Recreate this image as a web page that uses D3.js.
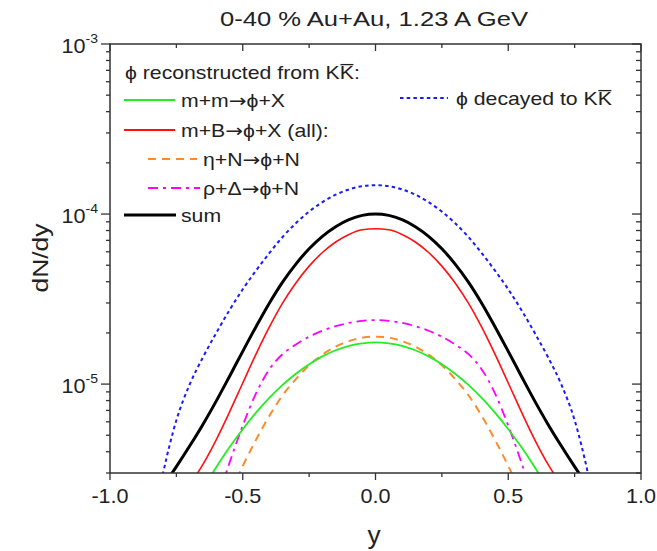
<!DOCTYPE html>
<html>
<head>
<meta charset="utf-8">
<script src="https://cdn.jsdelivr.net/npm/d3@7"></script>
<style>
  html, body { margin: 0; padding: 0; background: #fff; }
  svg { display: block; font-family: "Liberation Sans", Arial, Helvetica, sans-serif; }
</style>
</head>
<body>
<svg id="chart" width="657" height="551"></svg>
<script>
// Rapidity grid shared by all curves
const rapidity = [-0.85,-0.8,-0.75,-0.7,-0.65,-0.6,-0.55,-0.5,-0.45,-0.4,-0.35,-0.3,-0.25,-0.2,-0.15,-0.1,-0.05,0,
                  0.05,0.1,0.15,0.2,0.25,0.3,0.35,0.4,0.45,0.5,0.55,0.6,0.65,0.7,0.75,0.8,0.85];

// dN/dy for each channel (null = far below the axis range)
const decayedKK = [1.20e-6,3.00e-6,6.13e-6,9.94e-6,1.437e-5,1.995e-5,2.72e-5,3.61e-5,4.65e-5,5.89e-5,7.33e-5,8.83e-5,1.033e-4,1.175e-4,1.300e-4,1.396e-4,1.459e-4,1.479e-4,
                   1.459e-4,1.396e-4,1.300e-4,1.175e-4,1.033e-4,8.83e-5,7.33e-5,5.89e-5,4.65e-5,3.61e-5,2.72e-5,1.995e-5,1.437e-5,9.94e-6,6.13e-6,3.00e-6,1.20e-6];
const sumKK     = [1.95e-6,2.51e-6,3.27e-6,4.32e-6,5.79e-6,7.94e-6,1.109e-5,1.558e-5,2.175e-5,2.99e-5,3.98e-5,5.08e-5,6.25e-5,7.40e-5,8.43e-5,9.27e-5,9.82e-5,1.0e-4,
                   9.82e-5,9.27e-5,8.43e-5,7.40e-5,6.25e-5,5.08e-5,3.98e-5,2.99e-5,2.175e-5,1.558e-5,1.109e-5,7.94e-6,5.79e-6,4.32e-6,3.27e-6,2.51e-6,1.95e-6];
const mesonBaryon = [null,1.64e-6,2.02e-6,2.56e-6,3.37e-6,4.70e-6,6.84e-6,1.015e-5,1.50e-5,2.16e-5,2.99e-5,3.93e-5,4.94e-5,5.94e-5,6.85e-5,7.59e-5,8.08e-5,8.20e-5,
                     8.08e-5,7.59e-5,6.85e-5,5.94e-5,4.94e-5,3.93e-5,2.99e-5,2.16e-5,1.50e-5,1.015e-5,6.84e-6,4.70e-6,3.37e-6,2.56e-6,2.02e-6,1.64e-6,null];
const mesonMeson = [null,8.7e-7,1.25e-6,1.76e-6,2.42e-6,3.24e-6,4.25e-6,5.43e-6,6.79e-6,8.29e-6,9.89e-6,1.151e-5,1.31e-5,1.456e-5,1.581e-5,1.679e-5,1.738e-5,1.76e-5,
                    1.738e-5,1.679e-5,1.581e-5,1.456e-5,1.31e-5,1.151e-5,9.89e-6,8.29e-6,6.79e-6,5.43e-6,4.25e-6,3.24e-6,2.42e-6,1.76e-6,1.25e-6,8.7e-7,null];
const etaN = [null,null,null,null,8e-7,1.45e-6,2.23e-6,3.3e-6,4.7e-6,6.5e-6,8.6e-6,1.07e-5,1.29e-5,1.49e-5,1.66e-5,1.79e-5,1.875e-5,1.90e-5,
              1.875e-5,1.79e-5,1.66e-5,1.49e-5,1.29e-5,1.07e-5,8.6e-6,6.5e-6,4.7e-6,3.3e-6,2.23e-6,1.45e-6,8e-7,null,null,null,null];
const rhoDelta = [null,null,null,null,1.0e-6,1.98e-6,3.44e-6,5.70e-6,8.83e-6,1.22e-5,1.50e-5,1.71e-5,1.90e-5,2.06e-5,2.19e-5,2.29e-5,2.355e-5,2.38e-5,
                  2.355e-5,2.29e-5,2.19e-5,2.06e-5,1.90e-5,1.71e-5,1.50e-5,1.22e-5,8.83e-6,5.70e-6,3.44e-6,1.98e-6,1.0e-6,null,null,null,null];

// Axis ticks
const xTicks = [-1.0,-0.75,-0.5,-0.25,0,0.25,0.5,0.75,1.0];
const xTickLabels = ["-1.0","-0.5","0.0","0.5","1.0"];
const yMajorExp = [-5,-4,-3];

const titleText = "0-40 % Au+Au, 1.23 A GeV";

const svg = d3.select("#chart");
const L = 110, R = 641, T = 44, B = 473;
const x = d3.scaleLinear().domain([-1, 1]).range([L, R]);
const y = d3.scaleLog().domain([3e-6, 1e-3]).range([B, T]);
const ink = "#222";

// Text helper: the lettering is set slightly wide
function label(px, py, size, sx, anchor, rotate) {
  const g = svg.append("g")
    .attr("transform", `translate(${px},${py})` + (rotate ? ` rotate(${rotate})` : "") + ` scale(${sx},1)`);
  const t = g.append("text").attr("font-size", size).attr("fill", ink).attr("text-anchor", anchor || "start");
  return { g, t };
}
// Arrows are set in a font whose arrow glyph is full size
function richText(t, s) {
  s.split(/(→)/).forEach(part => {
    if (!part) return;
    const sp = t.append("tspan").text(part);
    if (part === "→") sp.attr("font-family", "DejaVu Sans");
  });
}
function overlineLastK(lab, size) {
  const node = lab.t.node();
  const i = node.textContent.lastIndexOf("K");
  const p0 = node.getStartPositionOfChar(i), p1 = node.getEndPositionOfChar(i);
  lab.g.append("line").attr("x1", p0.x + 0.6).attr("x2", p1.x - 0.4)
    .attr("y1", p0.y - size * 0.8).attr("y2", p0.y - size * 0.8)
    .attr("stroke", ink).attr("stroke-width", 1.3);
}

svg.append("defs").append("clipPath").attr("id", "plotclip")
  .append("rect").attr("x", L).attr("y", T).attr("width", R - L).attr("height", B - T);

// Curves
const series = [
  { data: decayedKK,   color: "#1a1aff", width: 2,   dash: "3.5,3.2" },
  { data: etaN,        color: "#ff8a2a", width: 2,   dash: "8,6" },
  { data: rhoDelta,    color: "#ff00ff", width: 1.8, dash: "10,5,3,5" },
  { data: mesonMeson,  color: "#22ee22", width: 1.8, dash: null },
  { data: mesonBaryon, color: "#ff1010", width: 1.6, dash: null },
  { data: sumKK,       color: "#000000", width: 3,   dash: null }
];
const line = d3.line()
  .defined(d => d[1] != null)
  .x(d => x(d[0]))
  .y(d => y(d[1]))
  .curve(d3.curveMonotoneX);
const gCurves = svg.append("g").attr("clip-path", "url(#plotclip)");
series.forEach(s => {
  gCurves.append("path")
    .attr("d", line(rapidity.map((r, i) => [r, s.data[i]])))
    .attr("fill", "none")
    .attr("stroke", s.color)
    .attr("stroke-width", s.width)
    .attr("stroke-dasharray", s.dash)
    .attr("stroke-linejoin", "round");
});

// Frame
svg.append("rect").attr("x", L).attr("y", T).attr("width", R - L).attr("height", B - T)
  .attr("fill", "none").attr("stroke", "#333").attr("stroke-width", 1.5);

// X ticks: outward on bottom, inward on top
const gx = svg.append("g").attr("stroke", "#333").attr("stroke-width", 1.3);
xTicks.forEach(t => {
  const major = Math.abs(t * 2 - Math.round(t * 2)) < 1e-9;
  const len = major ? 7 : 4;
  gx.append("line").attr("x1", x(t)).attr("x2", x(t)).attr("y1", B).attr("y2", B + len);
  gx.append("line").attr("x1", x(t)).attr("x2", x(t)).attr("y1", T).attr("y2", T + len);
});
xTickLabels.forEach(d => label(x(+d), 503, 20, 1.08, "middle").t.text(d));

// Y ticks: outward on left, inward on right
const gy = svg.append("g").attr("stroke", "#333").attr("stroke-width", 1.3);
const yMinor = [];
for (let e = -6; e <= -4; e++) for (let m = 2; m <= 9; m++) {
  const v = m * Math.pow(10, e);
  if (v >= 3e-6 && v < 1e-3) yMinor.push(v);
}
yMinor.forEach(v => {
  gy.append("line").attr("x1", L - 4).attr("x2", L).attr("y1", y(v)).attr("y2", y(v));
  gy.append("line").attr("x1", R - 5).attr("x2", R).attr("y1", y(v)).attr("y2", y(v));
});
yMajorExp.forEach(e => {
  const v = Math.pow(10, e);
  gy.append("line").attr("x1", L - 9).attr("x2", L).attr("y1", y(v)).attr("y2", y(v));
  gy.append("line").attr("x1", R - 9).attr("x2", R).attr("y1", y(v)).attr("y2", y(v));
  const lab = label(98, y(v) + 9, 20, 1.08, "end");
  lab.t.append("tspan").text("10");
  lab.t.append("tspan").attr("dy", -10).attr("font-size", 13).text(String(e));
});

// Titles
label(374, 26, 21, 1.22, "middle").t.text(titleText);
label(374, 544, 25, 1.05, "middle").t.text("y");
label(48, 258, 22, 1.2, "middle", -90).t.text("dN/dy");

// Legend
const lfs = 18, lsx = 1.18;
const hdr = label(125, 79, lfs, lsx);
hdr.t.text("ϕ reconstructed from KK:");
overlineLastK(hdr, lfs);

const legendLabels = ["m+m→ϕ+X", "m+B→ϕ+X (all):", "η+N→ϕ+N", "ρ+Δ→ϕ+N", "sum"];
const legendStyles = [
  { color: "#22ee22", width: 2,   dash: null,       x0: 124, x1: 175, tx: 181, y: 100 },
  { color: "#ff1010", width: 2,   dash: null,       x0: 124, x1: 175, tx: 181, y: 130 },
  { color: "#ff8a2a", width: 2,   dash: "8,6",      x0: 148, x1: 197, tx: 203, y: 159 },
  { color: "#ff00ff", width: 2,   dash: "10,5,3,5", x0: 148, x1: 200, tx: 203, y: 188 },
  { color: "#000000", width: 3.2, dash: null,       x0: 124, x1: 176, tx: 181, y: 215 }
];
legendLabels.forEach((txt, i) => {
  const r = legendStyles[i];
  svg.append("line").attr("x1", r.x0).attr("x2", r.x1).attr("y1", r.y).attr("y2", r.y)
    .attr("stroke", r.color).attr("stroke-width", r.width).attr("stroke-dasharray", r.dash);
  richText(label(r.tx, r.y + 7, lfs, lsx).t, txt);
});
svg.append("line").attr("x1", 400).attr("x2", 448).attr("y1", 98).attr("y2", 98)
  .attr("stroke", "#1a1aff").attr("stroke-width", 2).attr("stroke-dasharray", "3.5,3.2");
const dec = label(456, 105, lfs, lsx);
dec.t.text("ϕ decayed to KK");
overlineLastK(dec, lfs);
</script>
</body>
</html>
